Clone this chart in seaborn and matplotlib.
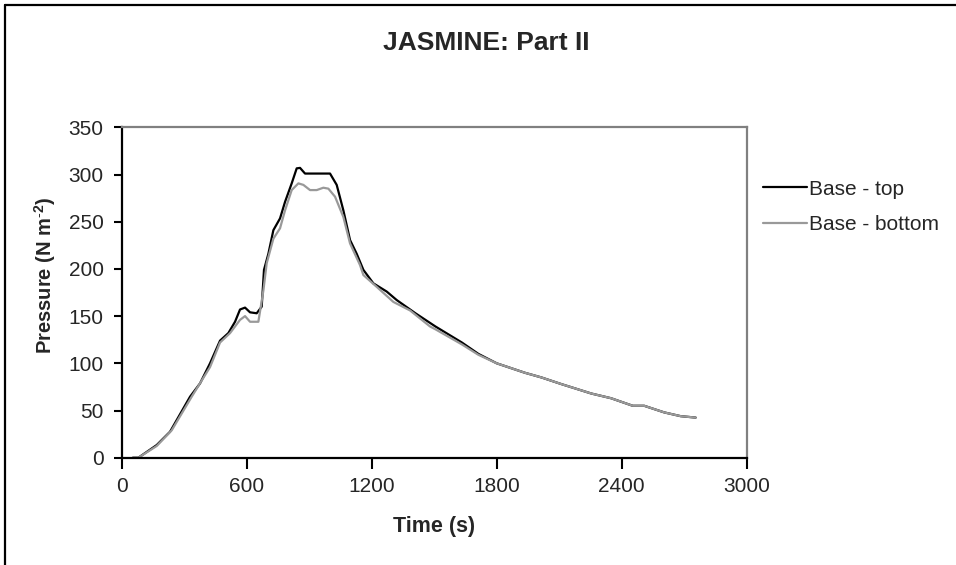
import numpy as np
import pandas as pd
import matplotlib
matplotlib.use("Agg")
import matplotlib.pyplot as plt
import seaborn as sns
from matplotlib.lines import Line2D

# ---- data ----
time_top = [53, 80, 168, 232, 328, 376, 424, 472, 512, 544, 568, 592, 616, 648, 672, 683,
            704, 728, 760, 784, 816, 840, 856, 880, 1000, 1032, 1064, 1096, 1128, 1160,
            1208, 1272, 1320, 1410, 1506, 1633, 1712, 1800, 1935, 2015, 2110, 2254, 2349,
            2453, 2508, 2604, 2683, 2755]
press_top = [0, 0, 13.4, 27.5, 64.6, 78.7, 100, 124, 132, 144, 157, 159, 154, 153, 160, 199,
             216, 241, 253.5, 271, 290.6, 306.5, 307, 301, 301, 289, 262, 230.6, 216, 199,
             184.7, 176, 167, 153, 139, 122, 110, 100, 90, 85, 78, 68, 63,
             55, 55, 48, 44, 42.5]

time_bot = [80, 168, 240, 336, 424, 472, 520, 568, 592, 616, 656, 680, 696, 728, 760, 784,
            816, 848, 872, 904, 936, 968, 992, 1024, 1064, 1096, 1144, 1160, 1224, 1304,
            1384, 1480, 1506, 1633, 1712, 1800, 1935, 2015, 2110, 2254, 2349, 2453, 2508,
            2604, 2683, 2755]
press_bot = [0, 12.4, 29, 64.6, 96, 122, 132, 146, 150, 144, 144, 177, 206, 232, 243, 262,
             283.5, 290.6, 289, 283.5, 283.5, 286, 285, 276.5, 255, 227, 204, 193.5, 181, 165,
             156, 139, 136, 120, 109, 100, 90, 85, 78, 68, 63, 55, 55,
             48, 44, 42.5]

series_names = ["Base - top", "Base - bottom"]
x_ticks = [0, 600, 1200, 1800, 2400, 3000]
y_ticks = [0, 50, 100, 150, 200, 250, 300, 350]

df = pd.concat([
    pd.DataFrame({"Time": time_top, "Pressure": press_top, "Series": series_names[0]}),
    pd.DataFrame({"Time": time_bot, "Pressure": press_bot, "Series": series_names[1]}),
], ignore_index=True)

sns.set_style("white")
plt.rcParams["font.family"] = ["Liberation Sans", "DejaVu Sans"]
plt.rcParams["mathtext.fontset"] = "custom"
plt.rcParams["mathtext.rm"] = "Liberation Sans"
plt.rcParams["mathtext.bf"] = "Liberation Sans:bold"

W, H = 956, 565
fig = plt.figure(figsize=(W / 100, H / 100), dpi=100)
L, R, T, B = 121.7, 746.7, 127.3, 457.7
ax = fig.add_axes([L / W, 1 - B / H, (R - L) / W, (B - T) / H])

sns.lineplot(data=df, x="Time", y="Pressure", hue="Series", sort=False,
             palette={series_names[0]: "black", series_names[1]: "#999999"},
             linewidth=1.6, ax=ax, estimator=None, legend=True)

ax.set_xlim(0, 3000)
ax.set_ylim(0, 350)
ax.set_xticks(x_ticks)
ax.set_yticks(y_ticks)
ax.tick_params(axis="x", direction="out", length=8, width=1.5, color="black",
               labelsize=15, pad=6, bottom=True)
ax.tick_params(axis="y", direction="out", length=6, width=1.5, color="black",
               labelsize=15, pad=7, left=True)

for s in ["left", "bottom"]:
    ax.spines[s].set_color("black")
    ax.spines[s].set_linewidth(1.6)
for s in ["top", "right"]:
    ax.spines[s].set_color("#808080")
    ax.spines[s].set_linewidth(1.6)
    ax.spines[s].set_visible(True)

ax.set_xlabel("Time (s)", fontsize=15.5, fontweight="bold", labelpad=14)
ax.set_ylabel(r"Pressure (N m$^{\mathbf{\text{-}2}}$)", fontsize=14.5, fontweight="bold")
ax.yaxis.set_label_coords((58 - L) / (R - L), (B - 275) / (B - T))

fig.text(486 / W, 1 - 43 / H, "JASMINE: Part II", ha="center", va="center",
         fontsize=19, fontweight="bold")

handles, labels = ax.get_legend_handles_labels()
ax.legend(handles, labels, loc="center left", frameon=False,
          bbox_to_anchor=(763 / W, 1 - 207 / H), bbox_transform=fig.transFigure,
          borderaxespad=0, borderpad=0, handlelength=2.1, handletextpad=0.1,
          labelspacing=0.8, fontsize=15)

# outer chart border (top and left edges visible)
fig.add_artist(Line2D([5 / W, 1.0], [1 - 5 / H, 1 - 5 / H], color="black", lw=1.6,
                      transform=fig.transFigure))
fig.add_artist(Line2D([5 / W, 5 / W], [0.0, 1 - 5 / H], color="black", lw=1.6,
                      transform=fig.transFigure))

fig.savefig("out.png", dpi=100)
